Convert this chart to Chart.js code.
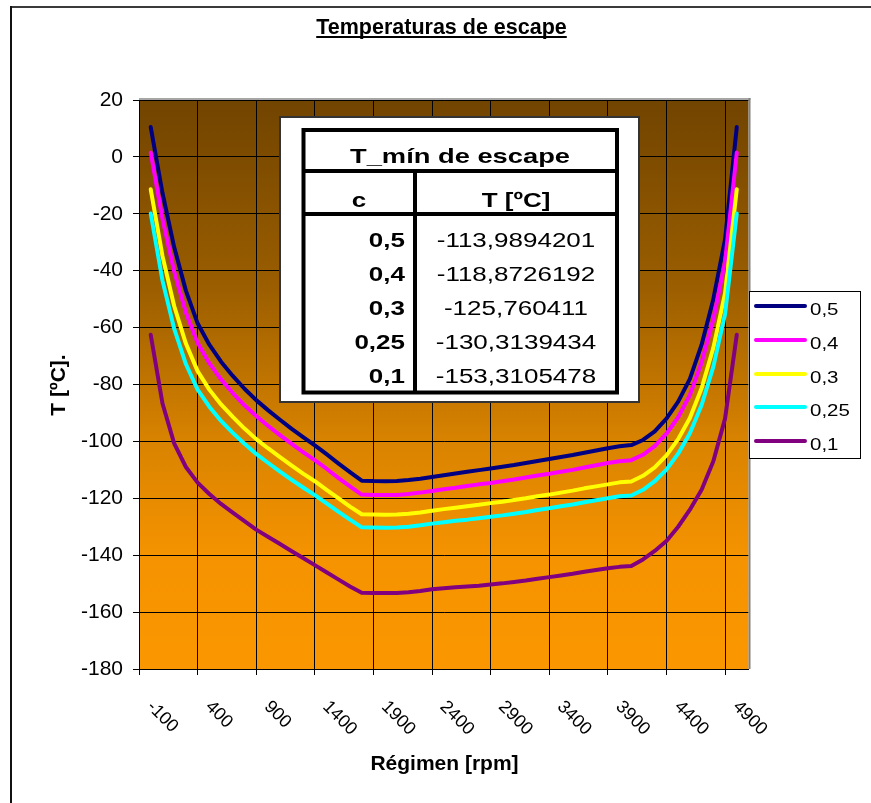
<!DOCTYPE html>
<html>
<head>
<meta charset="utf-8">
<title>Temperaturas de escape</title>
<script src="https://cdn.jsdelivr.net/npm/chart.js@4/dist/chart.umd.min.js"></script>
<style>
  html, body { margin: 0; padding: 0; background: #ffffff; }
  canvas { display: block; }
</style>
</head>
<body>
<canvas id="chart" width="871" height="803"></canvas>
<script>
// Régimen del motor [rpm]
const rpm = [-100, 0, 100, 200, 300, 400, 500, 600, 700, 800, 900, 1000, 1100, 1200, 1300, 1400,
  1500, 1600, 1700, 1800, 1900, 2000, 2100, 2200, 2300, 2400, 2500, 2600, 2700, 2800, 2900, 3000,
  3100, 3200, 3300, 3400, 3500, 3600, 3700, 3800, 3900, 4000, 4100, 4200, 4300, 4400, 4500, 4600,
  4700, 4800, 4900];

// Temperatura de escape [ºC] para cada valor de c
const tC05 = [10.5, -12.6, -31.7, -47.0, -58.5, -66.0, -72.0, -77.0, -81.5, -85.5, -89.0, -92.3,
  -95.5, -98.5, -101.4, -104.5, -107.7, -110.8, -113.8, -113.95, -113.9894201, -113.9, -113.6,
  -113.1, -112.5, -111.9, -111.3, -110.7, -110.1, -109.5, -108.9, -108.3, -107.6, -106.9, -106.2,
  -105.5, -104.8, -104.0, -103.2, -102.4, -101.7, -101.3, -99.5, -96.5, -92.0, -86.0, -78.0,
  -66.0, -50.0, -29.0, 10.5];
const tC04 = [1.5, -21.8, -40.3, -54.7, -65.4, -72.5, -78.2, -83.0, -87.3, -91.1, -94.5, -97.7,
  -100.8, -103.8, -106.6, -109.6, -112.8, -115.8, -118.7, -118.83, -118.8726192, -118.8, -118.5,
  -118.0, -117.4, -116.8, -116.3, -115.7, -115.1, -114.6, -114.0, -113.4, -112.7, -112.0, -111.4,
  -110.7, -110.0, -109.2, -108.4, -107.6, -107.0, -106.6, -104.7, -101.7, -97.3, -91.5, -83.7,
  -72.3, -57.1, -36.8, 1.5];
const tC03 = [-11.4, -34.8, -52.4, -65.6, -75.3, -81.8, -87.0, -91.4, -95.5, -99.2, -102.4, -105.4,
  -108.4, -111.3, -114.0, -117.0, -119.9, -122.9, -125.6, -125.72, -125.760411, -125.7, -125.4,
  -125.0, -124.4, -123.8, -123.3, -122.8, -122.3, -121.7, -121.2, -120.6, -120.0, -119.3, -118.7,
  -118.0, -117.3, -116.5, -115.8, -115.1, -114.4, -114.1, -112.1, -109.1, -104.9, -99.2, -91.8,
  -81.3, -67.1, -47.9, -11.4];
const tC025 = [-19.9, -43.4, -60.4, -72.8, -81.8, -87.8, -92.8, -97.0, -100.8, -104.4, -107.5, -110.5,
  -113.4, -116.2, -118.9, -121.8, -124.7, -127.5, -130.2, -130.28, -130.3139434, -130.27, -130.0,
  -129.5, -128.9, -128.4, -127.9, -127.5, -127.0, -126.5, -126.0, -125.4, -124.8, -124.1, -123.5,
  -122.8, -122.2, -121.4, -120.7, -120.0, -119.3, -119.0, -117.0, -114.0, -109.9, -104.3, -97.1,
  -87.2, -73.7, -55.2, -19.9];
const tC01 = [-62.5, -86.6, -100.7, -109.0, -114.5, -118.5, -122.0, -125.0, -128.0, -131.0, -133.5, -136.0,
  -138.5, -141.0, -143.5, -146.0, -148.5, -151.0, -153.2, -153.28, -153.3105478, -153.25, -153.0,
  -152.6, -152.0, -151.6, -151.3, -151.0, -150.7, -150.3, -149.9, -149.4, -148.9, -148.3, -147.7,
  -147.1, -146.5, -145.8, -145.2, -144.6, -144.1, -143.8, -141.5, -138.5, -135.0, -130.0, -124.0,
  -117.0, -107.0, -92.0, -62.5];

const seriesNames = ['0,5', '0,4', '0,3', '0,25', '0,1'];
const seriesValues = [tC05, tC04, tC03, tC025, tC01];
const seriesColors = ['#000080', '#ff00ff', '#ffff00', '#00ffff', '#800080'];

// Eje X: líneas de división y rótulos
const xGridRpm = [-200, 300, 800, 1300, 1800, 2300, 2800, 3300, 3800, 4300, 4800];
const xLabelRpm = [-100, 400, 900, 1400, 1900, 2400, 2900, 3400, 3900, 4400, 4900];

const FONT = '"Liberation Sans", Arial, sans-serif';

function drawStretched(ctx, text, x, y, align, font, sx) {
  ctx.save();
  ctx.translate(x, y);
  ctx.scale(sx, 1);
  ctx.font = font;
  ctx.textAlign = align;
  ctx.textBaseline = 'alphabetic';
  ctx.fillStyle = '#000';
  ctx.fillText(text, 0, 0);
  ctx.restore();
}

const decorPlugin = {
  id: 'decor',
  beforeDraw(chart) {
    const ctx = chart.ctx;
    const a = chart.chartArea;
    ctx.save();
    ctx.fillStyle = '#ffffff';
    ctx.fillRect(0, 0, chart.width, chart.height);
    // marco exterior
    ctx.fillStyle = '#3a3a3a';
    ctx.fillRect(10, 6, chart.width - 10, 2);
    ctx.fillStyle = '#111';
    ctx.fillRect(10, 6, 2, chart.height - 6);
    // fondo degradado del área de trazado
    const g = ctx.createLinearGradient(0, a.top, 0, a.bottom);
    g.addColorStop(0, '#714400');
    g.addColorStop(0.33, '#9b5e00');
    g.addColorStop(0.6, '#d98300');
    g.addColorStop(0.8, '#f59300');
    g.addColorStop(1, '#fa9700');
    ctx.fillStyle = g;
    ctx.fillRect(a.left, a.top, a.right - a.left, a.bottom - a.top);
    ctx.restore();
  },
  beforeDatasetsDraw(chart) {
    const ctx = chart.ctx;
    const a = chart.chartArea;
    ctx.save();
    ctx.fillStyle = '#a6a6a6';
    ctx.fillRect(a.left, a.top - 2, a.right - a.left + 2, 2);
    ctx.fillStyle = '#808080';
    ctx.fillRect(a.right, a.top - 2, 2, a.bottom - a.top + 2);
    ctx.restore();
  },
  afterDraw(chart) {
    const ctx = chart.ctx;
    const xs = chart.scales.x;
    ctx.save();

    // rótulos del eje X, girados 45º
    ctx.font = '18px ' + FONT;
    ctx.fillStyle = '#000';
    ctx.textAlign = 'left';
    ctx.textBaseline = 'middle';
    xLabelRpm.forEach(v => {
      const px = xs.getPixelForValue(v);
      ctx.save();
      ctx.translate(px - 1, 704);
      ctx.rotate(Math.PI / 4);
      ctx.fillText(String(v), 0, 0);
      ctx.restore();
    });

    // título
    ctx.font = 'bold 21.5px ' + FONT;
    ctx.textAlign = 'center';
    ctx.textBaseline = 'alphabetic';
    const title = 'Temperaturas de escape';
    const tx = 441.5, ty = 34;
    ctx.fillText(title, tx, ty);
    const tw = ctx.measureText(title).width;
    ctx.fillRect(tx - tw / 2, ty + 2, tw, 2);

    // títulos de los ejes
    ctx.font = 'bold 21px ' + FONT;
    ctx.fillText('Régimen [rpm]', 444.5, 770);
    ctx.save();
    ctx.translate(65, 385);
    ctx.rotate(-Math.PI / 2);
    ctx.fillText('T [ºC].', 0, 0);
    ctx.restore();

    // tabla de mínimos
    ctx.fillStyle = '#ffffff';
    ctx.fillRect(279, 116, 361, 287);
    ctx.strokeStyle = '#333';
    ctx.lineWidth = 2;
    ctx.strokeRect(280, 117, 359, 285);
    ctx.strokeStyle = '#000';
    ctx.lineWidth = 4;
    ctx.strokeRect(303.5, 130, 313.5, 262.5);
    ctx.beginPath();
    ctx.moveTo(303.5, 171); ctx.lineTo(617, 171);
    ctx.moveTo(303.5, 214); ctx.lineTo(617, 214);
    ctx.moveTo(415, 171); ctx.lineTo(415, 392.5);
    ctx.stroke();

    const sx = 1.3;
    drawStretched(ctx, 'T_mín de escape', 460, 163, 'center', 'bold 21px ' + FONT, sx);
    drawStretched(ctx, 'c', 359, 207, 'center', 'bold 20px ' + FONT, sx);
    drawStretched(ctx, 'T [ºC]', 516, 207, 'center', 'bold 20px ' + FONT, sx);
    const rowY = [247, 281, 315, 349, 383];
    seriesNames.forEach((name, i) => {
      const tmin = Math.min(...seriesValues[i]);
      drawStretched(ctx, name, 405, rowY[i], 'right', 'bold 20px ' + FONT, sx);
      drawStretched(ctx, String(tmin).replace('.', ','), 516, rowY[i], 'center', '20px ' + FONT, sx);
    });

    // leyenda
    ctx.fillStyle = '#ffffff';
    ctx.fillRect(749, 291, 112, 168);
    ctx.strokeStyle = '#000';
    ctx.lineWidth = 1;
    ctx.strokeRect(749.5, 291.5, 111, 167);
    const legY = [306, 340, 374, 407, 441];
    seriesNames.forEach((name, i) => {
      ctx.strokeStyle = seriesColors[i];
      ctx.lineWidth = 4;
      ctx.lineCap = 'round';
      ctx.beginPath();
      ctx.moveTo(756, legY[i]);
      ctx.lineTo(805, legY[i]);
      ctx.stroke();
      drawStretched(ctx, name, 810, legY[i] + 9, 'left', '16.5px ' + FONT, 1.24);
    });

    ctx.restore();
  }
};

const datasets = seriesNames.map((name, i) => ({
  label: name,
  data: rpm.map((r, k) => ({ x: r, y: seriesValues[i][k] })),
  borderColor: seriesColors[i],
  backgroundColor: seriesColors[i],
  borderWidth: 4,
  pointRadius: 0,
  tension: 0,
  borderCapStyle: 'round',
  borderJoinStyle: 'round',
  fill: false,
  order: seriesNames.length - i
}));

new Chart(document.getElementById('chart'), {
  type: 'line',
  data: { datasets },
  plugins: [decorPlugin],
  options: {
    responsive: false,
    animation: false,
    devicePixelRatio: 1,
    layout: { padding: { left: 0, top: 100, right: 122.5, bottom: 0 } },
    plugins: {
      legend: { display: false },
      title: { display: false },
      tooltip: { enabled: false }
    },
    scales: {
      x: {
        type: 'linear',
        min: -200,
        max: 5000,
        afterBuildTicks: s => { s.ticks = xGridRpm.map(v => ({ value: v })); },
        afterFit: s => { s.height = 134; },
        ticks: { display: false },
        grid: { color: '#000', lineWidth: 1, drawTicks: true, tickLength: 6, tickColor: '#000' },
        border: { display: true, color: '#000', width: 1 }
      },
      y: {
        type: 'linear',
        min: -180,
        max: 20,
        afterFit: s => { s.width = 139; },
        ticks: {
          stepSize: 20,
          color: '#000',
          padding: 10,
          font: { family: FONT, size: 21 }
        },
        grid: { color: '#000', lineWidth: 1, drawTicks: true, tickLength: 6, tickColor: '#000' },
        border: { display: true, color: '#000', width: 1 }
      }
    }
  }
});
</script>
</body>
</html>
